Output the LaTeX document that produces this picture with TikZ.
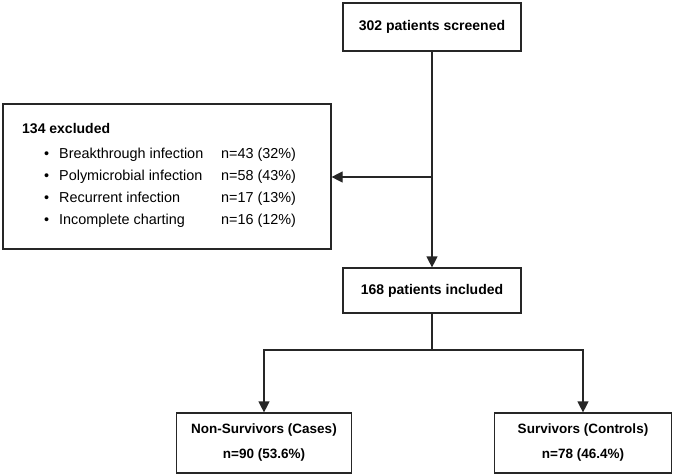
\documentclass[tikz,border=0pt]{standalone}
\usepackage{fontspec}
\setmainfont{Liberation Sans}
\usetikzlibrary{arrows.meta}
\begin{document}
\begin{tikzpicture}[x=1pt,y=-1pt,
  box/.style={draw=black!85,line width=1.2pt,fill=white,inner sep=0pt,align=center,font=\fontsize{14}{24}\selectfont\bfseries},
  conn/.style={line width=1.2pt,draw=black!85},
  arr/.style={conn,-{Triangle[width=11pt,length=11pt]}},
  item/.style={anchor=base west,inner sep=0pt,font=\fontsize{14.4}{15}\selectfont}]
\useasboundingbox (0,0) rectangle (680,476);
\node[box,minimum width=178pt,minimum height=48pt] (scr) at (432,27) {302 patients screened};
\node[box,minimum width=178pt,minimum height=45pt] (inc) at (432,290.5) {168 patients included};
\node[draw=black!85,line width=1.2pt,minimum width=328pt,minimum height=145pt,inner sep=0pt] (exc) at (167,176.5) {};
\node[box,minimum width=175pt,minimum height=60pt,font=\fontsize{13.5}{25}\selectfont\bfseries] (ns) at (264,443) {Non-Survivors (Cases)\\n=90 (53.6\%)};
\node[box,minimum width=177pt,minimum height=60pt,font=\fontsize{13.5}{25}\selectfont\bfseries] (sv) at (583,443) {Survivors (Controls)\\n=78 (46.4\%)};
% excluded text
\node[item,font=\fontsize{14}{15}\selectfont\bfseries] (t0) at (22,134) {134 excluded};
\foreach \i/\a/\b in {0/Breakthrough infection/n=43 (32\%),1/Polymicrobial infection/n=58 (43\%),2/Recurrent infection/n=17 (13\%),3/Incomplete charting/n=16 (12\%)}{
  \node[item] (b\i) at (44,{158+22.3*\i}) {•};
  \node[item] (l\i) at (59,{158+22.3*\i}) {\a};
  \node[item] (n\i) at (221,{158+22.3*\i}) {\b};
}
\coordinate (j1) at (432,177);
\coordinate (j2) at (432,350);
\draw[arr] (scr.south) -- (inc.north);
\draw[arr] (j1) -- (exc.east |- j1);
\draw[conn] (inc.south) -- (j2);
\draw[arr] (j2) -| (ns.north);
\draw[arr] (j2) -| (sv.north);
\end{tikzpicture}
\end{document}
